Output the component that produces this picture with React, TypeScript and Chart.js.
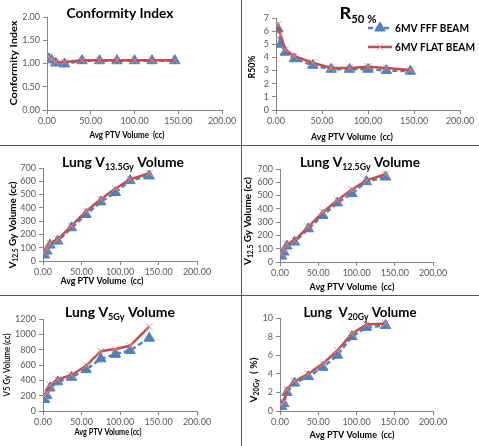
import React, { useEffect, useRef } from "react";
import { Chart, registerables } from "chart.js";

Chart.register(...registerables);

const FONT = "Lato, 'Open Sans', 'DejaVu Sans', sans-serif";

// ---------------- data ----------------
const avgPtvVolume = [2, 5, 10, 20, 40, 60, 80, 100, 120, 146];
const lungPtvVolume = [2, 5, 9, 19, 37, 56, 75, 94, 113, 138];
const xTickValues = [0, 50, 100, 150, 200];
const seriesNames = ["6MV FFF BEAM", "6MV FLAT BEAM"];

const ciFFF = [1.1, 1.08, 1.01, 0.99, 1.06, 1.06, 1.06, 1.06, 1.06, 1.06];
const ciFlat = [1.13, 1.1, 1.03, 1.03, 1.07, 1.07, 1.07, 1.07, 1.07, 1.07];
const ciTicks = [0, 0.5, 1, 1.5, 2];

const r50FFF = [6.2, 5.0, 4.4, 3.9, 3.4, 3.1, 3.1, 3.1, 3.0, 2.95];
const r50Flat = [6.5, 5.7, 4.6, 4.1, 3.6, 3.2, 3.2, 3.3, 3.2, 3.05];
const r50Ticks = [0, 1, 2, 3, 4, 5, 6, 7];

const v135FFF = [45, 75, 120, 150, 250, 350, 445, 515, 605, 640];
const v135Flat = [60, 95, 135, 160, 265, 375, 465, 545, 615, 660];
const v135Ticks = [0, 100, 200, 300, 400, 500, 600, 700];

const v125FFF = [45, 75, 120, 150, 250, 350, 445, 515, 605, 640];
const v125Flat = [60, 95, 135, 160, 265, 375, 465, 545, 615, 660];
const v125Ticks = [0, 100, 200, 300, 400, 500, 600, 700];

const v5FFF = [150, 200, 300, 380, 440, 540, 680, 740, 790, 950];
const v5Flat = [190, 240, 340, 410, 470, 590, 780, 810, 850, 1100];
const v5Ticks = [0, 200, 400, 600, 800, 1000, 1200];

const v20FFF = [0.5, 0.8, 2.0, 3.0, 3.7, 4.7, 6.0, 8.0, 9.0, 9.2];
const v20Flat = [0.7, 1.0, 2.3, 3.2, 4.0, 5.1, 6.5, 8.3, 9.3, 9.4];
const v20Ticks = [0, 2, 4, 6, 8, 10];

// ---------------- styles / helpers ----------------
type Seg = { t: string; sub?: boolean };
type Rich = {
  segs: Seg[];
  x: number;
  y: number;
  size: number;
  w: number;
  rot?: boolean;
  subScale?: number;
  weight?: string;
  color?: string;
};

function drawRich(ctx: CanvasRenderingContext2D, r: Rich) {
  const subScale = r.subScale ?? 0.68;
  const weight = r.weight ?? "bold";
  const fontFor = (s: Seg) => `${weight} ${s.sub ? r.size * subScale : r.size}px ${FONT}`;
  let total = 0;
  const widths: number[] = [];
  for (const s of r.segs) {
    ctx.font = fontFor(s);
    const m = ctx.measureText(s.t).width;
    widths.push(m);
    total += m;
  }
  const sx = r.w / total;
  ctx.save();
  ctx.translate(r.x, r.y);
  if (r.rot) ctx.rotate(-Math.PI / 2);
  ctx.scale(sx, 1);
  ctx.fillStyle = r.color ?? "#000";
  ctx.textBaseline = "alphabetic";
  ctx.textAlign = "left";
  let cx = -total / 2;
  const base = r.size * 0.36;
  r.segs.forEach((s, i) => {
    ctx.font = fontFor(s);
    ctx.fillText(s.t, cx, s.sub ? base + r.size * 0.2 : base);
    cx += widths[i];
  });
  ctx.restore();
}

function drawMarker(ctx: CanvasRenderingContext2D, style: string, x: number, y: number, r: number, stroke: string, fill: string, lw: number) {
  ctx.save();
  ctx.setLineDash([]);
  ctx.lineWidth = lw;
  ctx.strokeStyle = stroke;
  ctx.fillStyle = fill;
  ctx.beginPath();
  if (style === "triangle") {
    let a = 0;
    ctx.moveTo(x + Math.sin(a) * r, y - Math.cos(a) * r);
    a += (2 * Math.PI) / 3;
    ctx.lineTo(x + Math.sin(a) * r, y - Math.cos(a) * r);
    a += (2 * Math.PI) / 3;
    ctx.lineTo(x + Math.sin(a) * r, y - Math.cos(a) * r);
    ctx.closePath();
    ctx.fill();
    ctx.stroke();
  } else {
    const d = r * Math.SQRT1_2;
    ctx.moveTo(x - d, y - d);
    ctx.lineTo(x + d, y + d);
    ctx.moveTo(x + d, y - d);
    ctx.lineTo(x - d, y + d);
    ctx.stroke();
  }
  ctx.restore();
}

const richPlugin = {
  id: "richText",
  afterDraw(chart: any, _args: any, opts: any) {
    const ctx = chart.ctx as CanvasRenderingContext2D;
    (opts.items || []).forEach((it: Rich) => drawRich(ctx, it));
    const lg = opts.legend;
    if (lg) {
      chart.data.datasets.forEach((ds: any, i: number) => {
        const y = lg.y + i * lg.gap;
        ctx.save();
        ctx.strokeStyle = ds.borderColor;
        ctx.lineWidth = ds.borderWidth;
        ctx.setLineDash(ds.borderDash || []);
        ctx.beginPath();
        ctx.moveTo(lg.x1, y);
        ctx.lineTo(lg.x2, y);
        ctx.stroke();
        ctx.restore();
        drawMarker(ctx, ds.pointStyle, (lg.x1 + lg.x2) / 2, y, ds.pointRadius, ds.pointBorderColor, ds.pointBackgroundColor || ds.pointBorderColor, ds.pointBorderWidth);
        drawRich(ctx, { segs: [{ t: ds.label }], x: lg.textX + lg.widths[i] / 2, y, size: lg.size, w: lg.widths[i] });
      });
    }
  },
};

const fffStyle = {
  borderColor: "#4F81BD",
  backgroundColor: "#4F81BD",
  borderWidth: 2.5,
  borderDash: [5, 3],
  pointStyle: "triangle",
  pointRadius: 6,
  pointBackgroundColor: "#4F81BD",
  pointBorderColor: "#4F81BD",
  pointBorderWidth: 1,
  order: 2,
};
const flatStyle = {
  borderColor: "#C0504D",
  backgroundColor: "#C0504D",
  borderWidth: 2.5,
  pointStyle: "crossRot",
  pointRadius: 5,
  pointBackgroundColor: "rgba(217,150,148,0.9)",
  pointBorderColor: "rgba(217,150,148,0.9)",
  pointBorderWidth: 1,
  order: 1,
};

type PanelCfg = {
  left: number;
  top: number;
  w: number;
  h: number;
  area: { l: number; t: number; r: number; b: number };
  xs: number[];
  fff: number[];
  flat: number[];
  yTicks: number[];
  yDecimals: number;
  items: Rich[];
  legend?: any;
};

const axisTitle = (x: number, y: number, w: number, size = 9.5): Rich => ({
  segs: [{ t: "Avg PTV Volume  (cc)" }],
  x,
  y,
  size,
  w,
});

const panels: PanelCfg[] = [
  {
    left: 0, top: 0, w: 241, h: 145,
    area: { l: 47, t: 17, r: 222, b: 110 },
    xs: avgPtvVolume, fff: ciFFF, flat: ciFlat, yTicks: ciTicks, yDecimals: 2,
    items: [
      { segs: [{ t: "Conformity Index" }], x: 120, y: 13, size: 14, w: 107 },
      { segs: [{ t: "Conformity Index" }], x: 13, y: 63, size: 10, w: 85, rot: true },
      axisTitle(127, 135, 75),
    ],
  },
  {
    left: 241, top: 0, w: 238, h: 145,
    area: { l: 35, t: 18, r: 219, b: 110 },
    xs: avgPtvVolume, fff: r50FFF, flat: r50Flat, yTicks: r50Ticks, yDecimals: 0,
    items: [
      { segs: [{ t: "R" }, { t: "50 %", sub: true }], x: 117, y: 13, size: 17, w: 37, subScale: 0.62 },
      { segs: [{ t: "R50%" }], x: 10, y: 67, size: 10, w: 23, rot: true },
      axisTitle(111, 137, 82),
    ],
    legend: { x1: 127, x2: 151, textX: 154, y: 28, gap: 19, size: 11, widths: [74, 80] },
  },
  {
    left: 0, top: 145, w: 241, h: 150,
    area: { l: 43, t: 23, r: 197, b: 116 },
    xs: lungPtvVolume, fff: v135FFF, flat: v135Flat, yTicks: v135Ticks, yDecimals: 0,
    items: [
      { segs: [{ t: "Lung V" }, { t: "13.5Gy", sub: true }, { t: " Volume" }], x: 123, y: 17, size: 14, w: 122, subScale: 0.65 },
      { segs: [{ t: "V" }, { t: "12.5", sub: true }, { t: " Gy Volume (cc)" }], x: 12, y: 80, size: 10, w: 87, rot: true },
      axisTitle(102, 136, 83),
    ],
  },
  {
    left: 241, top: 145, w: 238, h: 150,
    area: { l: 39, t: 24, r: 192, b: 117 },
    xs: lungPtvVolume, fff: v125FFF, flat: v125Flat, yTicks: v125Ticks, yDecimals: 0,
    items: [
      { segs: [{ t: "Lung V" }, { t: "12.5Gy", sub: true }, { t: " Volume" }], x: 119, y: 17, size: 14, w: 120, subScale: 0.65 },
      { segs: [{ t: "V" }, { t: "12.5", sub: true }, { t: " Gy Volume (cc)" }], x: 6, y: 76, size: 10, w: 88, rot: true },
      axisTitle(111, 142, 85),
    ],
  },
  {
    left: 0, top: 295, w: 241, h: 151,
    area: { l: 43, t: 24, r: 197, b: 116 },
    xs: lungPtvVolume, fff: v5FFF, flat: v5Flat, yTicks: v5Ticks, yDecimals: 0,
    items: [
      { segs: [{ t: "Lung V" }, { t: "5Gy", sub: true }, { t: " Volume" }], x: 120, y: 17, size: 14, w: 110, subScale: 0.65 },
      { segs: [{ t: "V5 Gy Volume (cc)" }], x: 7, y: 70, size: 8.5, w: 63, rot: true, weight: "600" },
      { segs: [{ t: "Avg PTV Volume (cc)" }], x: 108, y: 137, size: 8.5, w: 67 },
    ],
  },
  {
    left: 241, top: 295, w: 238, h: 151,
    area: { l: 39, t: 23, r: 192, b: 116 },
    xs: lungPtvVolume, fff: v20FFF, flat: v20Flat, yTicks: v20Ticks, yDecimals: 0,
    items: [
      { segs: [{ t: "Lung  V" }, { t: "20Gy", sub: true }, { t: " Volume" }], x: 119, y: 17, size: 14, w: 113, subScale: 0.65 },
      { segs: [{ t: "V" }, { t: "20Gy", sub: true }, { t: "  ( %)" }], x: 12, y: 85, size: 10, w: 45, rot: true },
      axisTitle(111, 140, 85),
    ],
  },
];

function Panel({ cfg }: { cfg: PanelCfg }) {
  const ref = useRef<HTMLCanvasElement>(null);
  useEffect(() => {
    if (!ref.current) return;
    const { w, h, area } = cfg;
    const tickFont = { family: FONT, size: 9 };
    const mk = (vals: number[]) => cfg.xs.map((x, i) => ({ x, y: vals[i] }));
    const chart = new Chart(ref.current, {
      type: "line",
      data: {
        datasets: [
          { label: seriesNames[0], data: mk(cfg.fff), ...fffStyle } as any,
          { label: seriesNames[1], data: mk(cfg.flat), ...flatStyle } as any,
        ],
      },
      plugins: [richPlugin as any],
      options: {
        responsive: false,
        animation: false,
        devicePixelRatio: 1,
        layout: { padding: { top: area.t, right: w - area.r, left: 0, bottom: 0 } },
        elements: { line: { tension: 0 } },
        plugins: {
          legend: { display: false },
          tooltip: { enabled: false },
          title: { display: false },
          richText: { items: cfg.items, legend: cfg.legend },
        } as any,
        scales: {
          x: {
            type: "linear",
            min: 0,
            max: 200,
            afterBuildTicks: (s: any) => {
              s.ticks = xTickValues.map((v) => ({ value: v }));
            },
            afterFit: (s: any) => {
              s.height = h - area.b;
            },
            ticks: {
              font: tickFont,
              color: "#595959",
              maxRotation: 0,
              autoSkip: false,
              padding: 2,
              callback: (v: any) => Number(v).toFixed(2),
            },
            grid: { display: true, drawOnChartArea: false, tickLength: 4, color: "#868686" },
            border: { color: "#868686", width: 1 },
          },
          y: {
            type: "linear",
            min: cfg.yTicks[0],
            max: cfg.yTicks[cfg.yTicks.length - 1],
            afterBuildTicks: (s: any) => {
              s.ticks = cfg.yTicks.map((v) => ({ value: v }));
            },
            afterFit: (s: any) => {
              s.width = area.l;
            },
            ticks: {
              font: tickFont,
              color: "#595959",
              padding: 3,
              autoSkip: false,
              callback: (v: any) => Number(v).toFixed(cfg.yDecimals),
            },
            grid: { display: true, drawOnChartArea: false, tickLength: 4, color: "#868686" },
            border: { color: "#868686", width: 1 },
          },
        },
      } as any,
    });
    return () => chart.destroy();
  }, [cfg]);
  return (
    <canvas
      ref={ref}
      width={cfg.w}
      height={cfg.h}
      style={{ position: "absolute", left: cfg.left, top: cfg.top, width: cfg.w, height: cfg.h }}
    />
  );
}

export default function App() {
  return (
    <div style={{ position: "fixed", left: 0, top: 0, width: 479, height: 446, background: "#fff", overflow: "hidden" }}>
      {panels.map((p, i) => (
        <Panel key={i} cfg={p} />
      ))}
      <div style={{ position: "absolute", left: 241, top: 0, width: 1, height: 446, background: "#555" }} />
      <div style={{ position: "absolute", left: 0, top: 145, width: 479, height: 1, background: "#555" }} />
      <div style={{ position: "absolute", left: 0, top: 295, width: 479, height: 1, background: "#555" }} />
    </div>
  );
}
